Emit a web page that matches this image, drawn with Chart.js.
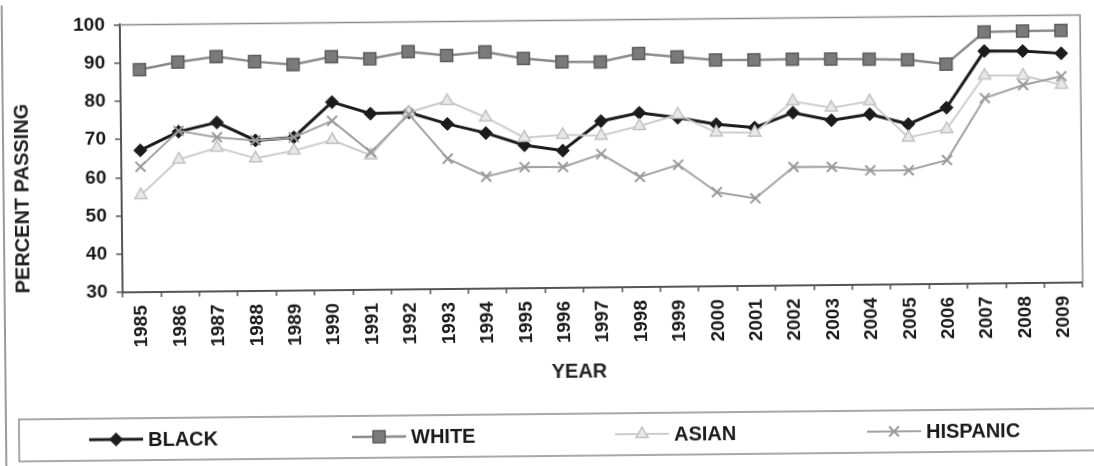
<!DOCTYPE html>
<html><head><meta charset="utf-8">
<script src="https://cdn.jsdelivr.net/npm/chart.js@4/dist/chart.umd.min.js"></script>
<style>
html,body{margin:0;padding:0;background:#fff;overflow:hidden;}
#wrap{width:1094px;height:466px;transform:rotate(-0.59deg);transform-origin:50% 50%;}
canvas{display:block;}
</style></head><body>
<div id="wrap"><canvas id="c" width="1094" height="466"></canvas></div>
<script>
const years = ['1985','1986','1987','1988','1989','1990','1991','1992','1993','1994','1995','1996','1997','1998','1999','2000','2001','2002','2003','2004','2005','2006','2007','2008','2009'];
const black = [67.1, 71.9, 74.2, 69.4, 70.1, 79.2, 76.1, 76.3, 73.2, 70.7, 67.4, 65.9, 73.5, 75.6, 74.2, 72.4, 71.4, 75.2, 73.1, 74.6, 71.9, 76.1, 90.8, 90.7, 90.0];
const white = [88.2, 90.1, 91.4, 90.0, 89.1, 91.1, 90.4, 92.2, 91.1, 91.9, 90.1, 89.1, 89.0, 91.1, 90.1, 89.2, 89.1, 89.2, 89.1, 89.0, 88.7, 87.5, 95.8, 95.9, 96.0];
const asian = [55.4, 64.6, 67.6, 64.7, 66.6, 69.3, 65.2, 76.3, 79.2, 74.8, 69.4, 70.0, 69.7, 72.1, 75.0, 70.2, 70.1, 78.2, 76.4, 78.0, 68.4, 70.5, 84.4, 84.3, 81.8];
const hispanic = [62.8, 72.1, 70.3, 69.4, 70.1, 74.3, 66.0, 75.8, 64.1, 59.3, 61.7, 61.6, 64.9, 58.8, 61.9, 54.6, 52.9, 61.0, 60.9, 59.9, 59.8, 62.4, 78.5, 81.8, 84.0];
const seriesNames = ['BLACK', 'WHITE', 'ASIAN', 'HISPANIC'];
const yMin = 30, yMax = 100, yStep = 10;
const yTitle = 'PERCENT PASSING';
const xTitle = 'YEAR';

const FONT = "'Liberation Sans', Arial, sans-serif";

const styles = [
  {borderColor:'#1c1c1c', borderWidth:3, pointStyle:'rectRot', pointRadius:6.5, pointBackgroundColor:'#1c1c1c', pointBorderColor:'#1c1c1c', pointBorderWidth:1, order:4},
  {borderColor:'#8a8a8a', borderWidth:2.5, pointStyle:'rect', pointRadius:8.5, pointBackgroundColor:'#7a7a7a', pointBorderColor:'#5c5c5c', pointBorderWidth:1.5, order:3},
  {borderColor:'#cdcdcd', borderWidth:2, pointStyle:'triangle', pointRadius:7, pointBackgroundColor:'#e8e8e8', pointBorderColor:'#c2c2c2', pointBorderWidth:1.5, order:2},
  {borderColor:'#a2a2a2', borderWidth:2, pointStyle:'crossRot', pointRadius:7, pointBackgroundColor:'#a2a2a2', pointBorderColor:'#999999', pointBorderWidth:2, order:1}
];
const values = [black, white, asian, hispanic];

const datasets = values.map((v, i) => Object.assign({label: seriesNames[i], data: v, tension: 0, fill: false, pointHoverRadius: styles[i].pointRadius}, styles[i]));

function drawMarker(ctx, st, x, y) {
  ctx.fillStyle = st.pointBackgroundColor;
  ctx.strokeStyle = st.pointBorderColor;
  ctx.lineWidth = st.pointBorderWidth;
  if (Chart.helpers && Chart.helpers.drawPoint) {
    Chart.helpers.drawPoint(ctx, {pointStyle: st.pointStyle, radius: st.pointRadius, borderWidth: st.pointBorderWidth, rotation: 0}, x, y);
  }
}

const decor = {
  id: 'decor',
  afterDraw(chart) {
    const ctx = chart.ctx, a = chart.chartArea;
    ctx.save();
    // plot area top/right border
    ctx.strokeStyle = '#8a8a8a'; ctx.lineWidth = 1.5;
    ctx.beginPath(); ctx.moveTo(a.left, a.top); ctx.lineTo(a.right, a.top); ctx.lineTo(a.right, a.bottom); ctx.stroke();
    // outer frame left edge
    ctx.strokeStyle = '#9a9a9a'; ctx.lineWidth = 2;
    ctx.beginPath(); ctx.moveTo(4, 0); ctx.lineTo(4, 466); ctx.stroke();
    // x axis title
    ctx.fillStyle = '#222'; ctx.font = 'bold 20px ' + FONT; ctx.textAlign = 'center'; ctx.textBaseline = 'middle';
    ctx.fillText(xTitle, 578, 372);
    // legend box
    ctx.strokeStyle = '#8c8c8c'; ctx.lineWidth = 1.5;
    ctx.strokeRect(17, 414, 1100, 42);
    const starts = [87, 350, 613, 865];
    const cy = 435;
    seriesNames.forEach((name, i) => {
      const st = styles[i];
      const x0 = starts[i], x1 = x0 + 54;
      ctx.strokeStyle = st.borderColor; ctx.lineWidth = st.borderWidth;
      ctx.beginPath(); ctx.moveTo(x0, cy); ctx.lineTo(x1, cy); ctx.stroke();
      drawMarker(ctx, st, (x0 + x1) / 2, cy);
      ctx.fillStyle = '#1a1a1a'; ctx.font = 'bold 20px ' + FONT; ctx.textAlign = 'left'; ctx.textBaseline = 'middle';
      ctx.fillText(name, x1 + 5, cy + 1);
    });
    ctx.restore();
  }
};

new Chart(document.getElementById('c'), {
  type: 'line',
  data: {labels: years, datasets: datasets},
  options: {
    responsive: false,
    devicePixelRatio: 1,
    animation: false,
    events: [],
    layout: {padding: {top: 15, right: 2, left: 0, bottom: 0}},
    plugins: {legend: {display: false}, tooltip: {enabled: false}},
    scales: {
      x: {
        offset: true,
        ticks: {autoSkip: false, minRotation: 90, maxRotation: 90, color: '#1a1a1a', font: {family: FONT, size: 19, weight: 'bold'}, padding: 8},
        grid: {offset: true, drawOnChartArea: false, drawTicks: true, tickLength: 5, color: '#555', lineWidth: 1.5},
        border: {display: true, color: '#555', width: 2},
        afterFit(s) { s.height = 178; }
      },
      y: {
        min: yMin, max: yMax,
        ticks: {stepSize: yStep, color: '#1a1a1a', font: {family: FONT, size: 19, weight: 'bold'}, padding: 9},
        grid: {drawOnChartArea: false, drawTicks: true, tickLength: 6, color: '#555', lineWidth: 1.5},
        border: {display: true, color: '#555', width: 2},
        title: {display: true, text: yTitle, align: 'start', color: '#222', font: {family: FONT, size: 20, weight: 'bold'}, padding: {top: 11, bottom: 0}},
        afterFit(s) { s.width = 122; }
      }
    }
  },
  plugins: [decor]
});
</script>
</body></html>
